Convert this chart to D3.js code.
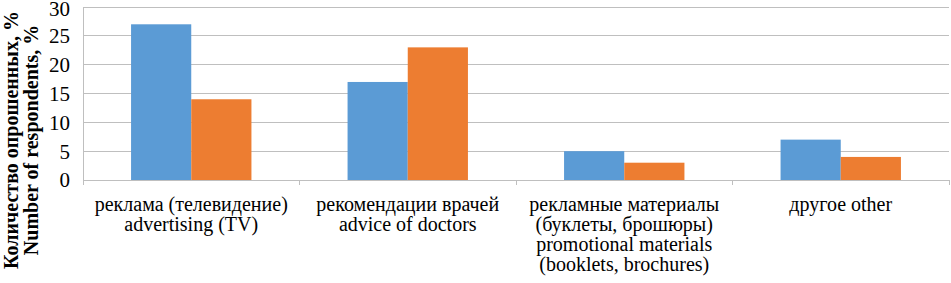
<!DOCTYPE html>
<html>
<head>
<meta charset="utf-8">
<script src="https://cdn.jsdelivr.net/npm/d3@7"></script>
<style>
  html, body { margin: 0; padding: 0; background: #fff; }
  svg { display: block; }
</style>
</head>
<body>
<svg id="chart" width="951" height="283"></svg>
<script>
const categories = [
  ["реклама (телевидение)", "advertising (TV)"],
  ["рекомендации врачей", "advice of doctors"],
  ["рекламные материалы", "(буклеты, брошюры)", "promotional materials", "(booklets, brochures)"],
  ["другое other"]
];
const seriesNames = ["s1", "s2"];
const series1 = [27, 17, 5, 7];
const series2 = [14, 23, 3, 4];
const yTicks = [0, 5, 10, 15, 20, 25, 30];
const yTitle = ["Количество опрошенных, %", "Number of respondents, %"];
const colors = ["#5B9BD5", "#ED7D31"];

(function () {
const FONT = "Liberation Serif";
const svg = d3.select("#chart");
const pl = 83, pr = 949, pt = 7, pb = 180;

const x0 = d3.scaleBand().domain(d3.range(categories.length)).range([pl, pr]);
const bw = x0.bandwidth();
const off = bw * 0.222;
const x1 = d3.scaleBand().domain(seriesNames).range([off, bw - off]);
const y = d3.scaleLinear().domain([0, 30]).range([pb, pt]);

// gridlines
svg.append("g").selectAll("line").data(yTicks.filter(d => d > 0)).join("line")
  .attr("x1", pl).attr("x2", pr)
  .attr("y1", d => y(d)).attr("y2", d => y(d))
  .attr("stroke", "#bfbfbf").attr("stroke-width", 1).attr("shape-rendering", "crispEdges");

// vertical axis line
svg.append("line").attr("x1", pl).attr("x2", pl).attr("y1", pt).attr("y2", pb)
  .attr("stroke", "#bfbfbf").attr("shape-rendering", "crispEdges");

// bars
const data = categories.map((c, i) => ({i, vals: [series1[i], series2[i]]}));
const g = svg.append("g").selectAll("g").data(data).join("g")
  .attr("transform", d => `translate(${x0(d.i)},0)`);
g.selectAll("rect").data(d => d.vals.map((v, k) => ({k, v}))).join("rect")
  .attr("x", d => x1(seriesNames[d.k]))
  .attr("width", x1.bandwidth())
  .attr("y", d => y(d.v))
  .attr("height", d => y(0) - y(d.v))
  .attr("fill", d => colors[d.k]);

// x axis line and ticks
svg.append("line").attr("x1", pl).attr("x2", pr).attr("y1", pb).attr("y2", pb)
  .attr("stroke", "#bfbfbf").attr("shape-rendering", "crispEdges");
const bounds = d3.range(categories.length + 1).map(i => i < categories.length ? x0(i) : pr);
svg.append("g").selectAll("line").data(bounds).join("line")
  .attr("x1", d => d).attr("x2", d => d).attr("y1", pb).attr("y2", pb + 5)
  .attr("stroke", "#bfbfbf").attr("shape-rendering", "crispEdges");

// y tick labels
svg.append("g").selectAll("text").data(yTicks).join("text")
  .attr("x", 70).attr("y", d => y(d))
  .attr("dy", d => d === 30 ? "0.45em" : "0.35em")
  .attr("text-anchor", "end")
  .style("font-family", FONT)
  .style("font-size", "21px")
  .text(d => d);

// category labels
const cl = svg.append("g").selectAll("text").data(categories).join("text")
  .attr("text-anchor", "middle")
  .style("font-family", FONT)
  .style("font-size", "20px");
cl.selectAll("tspan").data((d, i) => d.map(t => ({t, i}))).join("tspan")
  .attr("x", d => x0(d.i) + bw / 2)
  .attr("y", (d, j) => 211 + j * 20)
  .text(d => d.t);

// y axis title
const tt = svg.append("text")
  .attr("transform", "translate(0,140) rotate(-90)")
  .attr("text-anchor", "middle")
  .style("font-family", FONT)
  .style("font-size", "20px").style("font-weight", "bold");
tt.selectAll("tspan").data(yTitle).join("tspan")
  .attr("x", 0).attr("y", (d, j) => 18 + j * 20)
  .text(d => d);
})();
</script>
</body>
</html>
